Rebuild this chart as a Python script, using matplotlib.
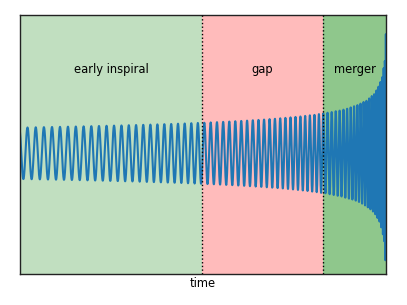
import numpy as np
import matplotlib
matplotlib.use("Agg")
import matplotlib.pyplot as plt

# --- data ---
region_labels = ["early inspiral", "gap", "merger"]
region_edges = [0.0, 0.497, 0.828, 1.0]          # fraction of the time span
region_colors = ["#c1dfc0", "#ffbbbb", "#8fc78c"]

# chirp parameters (read from envelope / spacing of the wave)
start_amplitude = 25.7        # amplitude at left edge (pixel-like units)
end_tau = 1.0 / 576.0         # remaining time to coalescence at right edge
cycles_scale = 44.0           # f0 * t_c (cycles)
n_samples = 2500              # sampling of the waveform
center_below = 120.7          # ylim lower bound
center_above = 138.3          # ylim upper bound

t_end = 1.0 - end_tau
t = np.linspace(0.0, t_end, n_samples)
tau = 1.0 - t
amp = start_amplitude * tau ** (-0.25)
phase = 2 * np.pi * cycles_scale * (8.0 / 5.0) * (1.0 - tau ** (5.0 / 8.0))
h = amp * np.cos(phase + 0.6)

fig = plt.figure(figsize=(4.07, 3.05), dpi=100)
ax = fig.add_axes([20 / 407, 1 - 274 / 305, 366 / 407, 259 / 305])

edges = [e * t_end for e in region_edges]
for i, (lab, col) in enumerate(zip(region_labels, region_colors)):
    ax.axvspan(edges[i], edges[i + 1], color=col, lw=0, zorder=0)
    ax.text((edges[i] + edges[i + 1]) / 2, 0.79, lab, transform=ax.get_xaxis_transform(),
            ha="center", va="center", fontsize=8.3)
for e in edges[1:-1]:
    ax.axvline(e, color="k", ls=":", lw=1.0, zorder=3)

ax.plot(t, h, color="#1f77b4", lw=1.5, zorder=2)

ax.set_xlim(0, t_end)
ax.set_ylim(-center_below, center_above)
ax.set_xticks([])
ax.set_yticks([])
ax.set_xlabel("time", fontsize=8.3, labelpad=2)
for s in ax.spines.values():
    s.set_linewidth(1.0)
    s.set_color("#222222")

fig.savefig("out.png", dpi=100)
